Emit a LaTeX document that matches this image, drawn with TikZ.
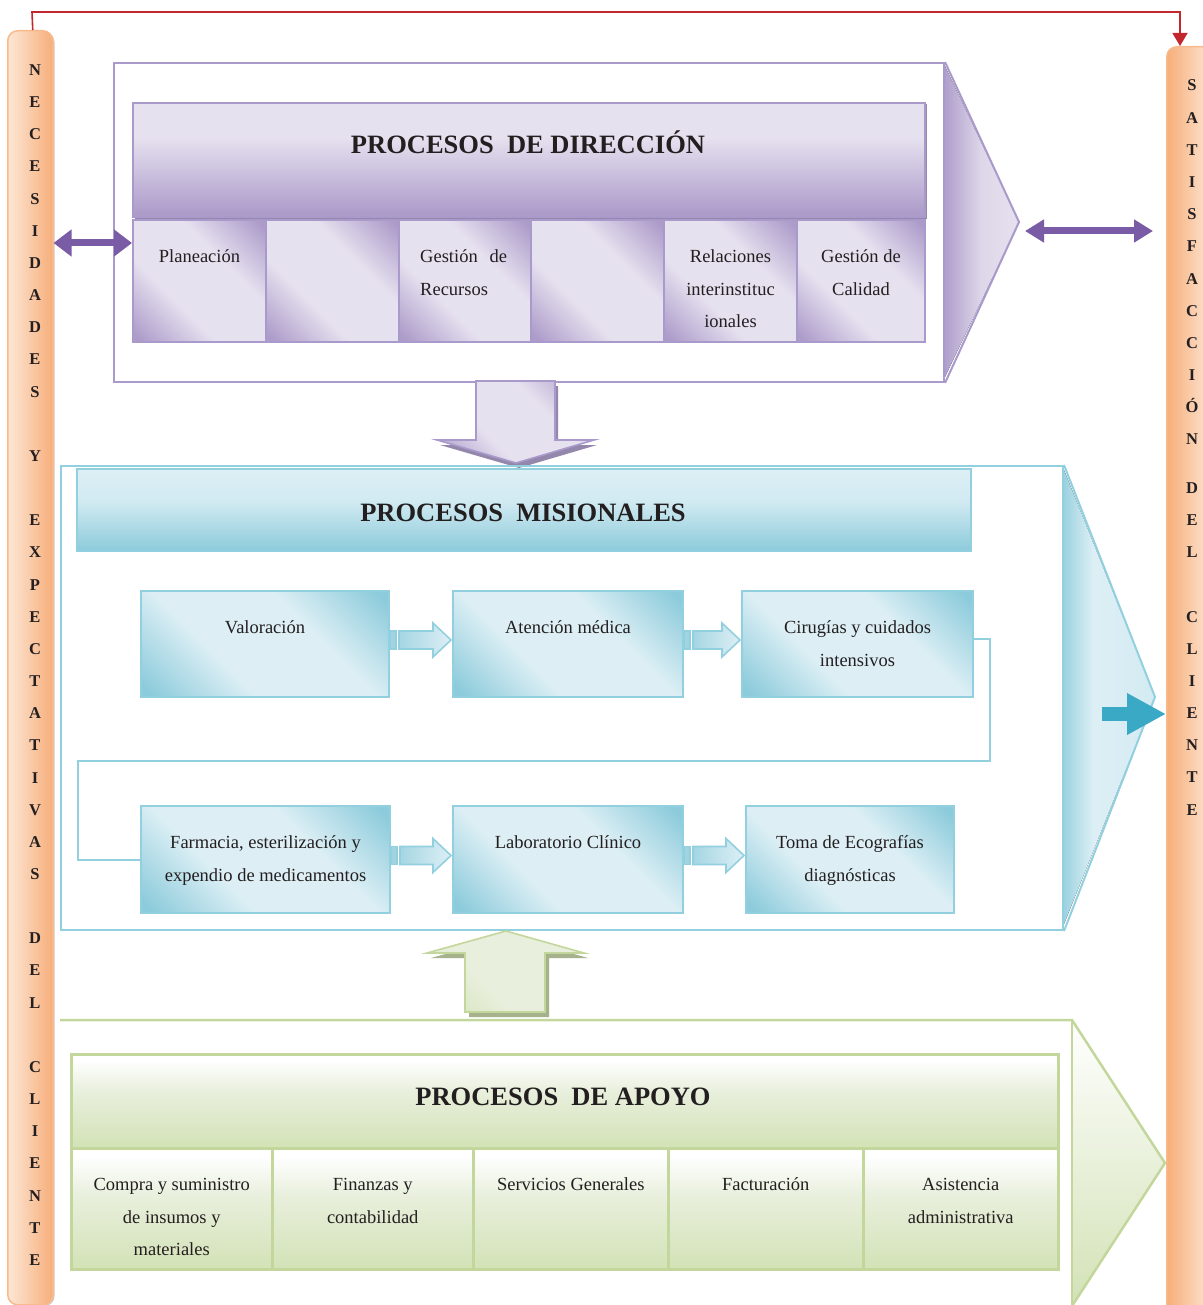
\documentclass[tikz,border=0pt]{standalone}
\usepackage{fontspec}
\setmainfont{Liberation Serif}
\usetikzlibrary{calc,arrows.meta}

% palette
\definecolor{ink}{HTML}{231F20}
\definecolor{purBorder}{HTML}{A99ACB}
\definecolor{purDark}{HTML}{AD9CCA}
\definecolor{purLight}{HTML}{E6E1EF}
\definecolor{purArrow}{HTML}{7A5BA5}
\definecolor{purShadow}{HTML}{9487AC}
\definecolor{bluBorder}{HTML}{93D0DF}
\definecolor{bluDark}{HTML}{8CCBDB}
\definecolor{bluLight}{HTML}{DDEFF5}
\definecolor{tealArrow}{HTML}{3AA9C6}
\definecolor{grnBorder}{HTML}{C3D69B}
\definecolor{grnDark}{HTML}{D3E2B6}
\definecolor{grnLight}{HTML}{E8EFDC}
\definecolor{grnShadow}{HTML}{A6B28C}
\definecolor{orgDark}{HTML}{F6AE7A}
\definecolor{orgLight}{HTML}{FDE7D6}
\definecolor{orgBorder}{HTML}{F8BA8C}
\definecolor{redLine}{HTML}{C1272D}

% diagonal and vertical fills
\pgfdeclareverticalshading{purdiag}{100bp}{color(0bp)=(purDark); color(17bp)=(purDark); color(38bp)=(purLight); color(62bp)=(purLight); color(83bp)=(purDark); color(100bp)=(purDark)}
\pgfdeclareverticalshading{bludiag}{100bp}{color(0bp)=(bluDark); color(17bp)=(bluDark); color(38bp)=(bluLight); color(62bp)=(bluLight); color(83bp)=(bluDark); color(100bp)=(bluDark)}
\pgfdeclareverticalshading{grndiag}{100bp}{color(0bp)=(grnDark); color(15bp)=(grnDark); color(40bp)=(grnLight); color(100bp)=(grnLight)}
\pgfdeclareverticalshading{grnvert}{100bp}{color(0bp)=(grnDark); color(25bp)=(grnDark); color(55bp)=(grnLight); color(72bp)=(white); color(100bp)=(white)}
\pgfdeclareverticalshading{purtitle}{100bp}{color(0bp)=(purDark); color(27bp)=(purDark); color(60bp)=(purLight); color(100bp)=(purLight)}
\pgfdeclareverticalshading{blutitle}{100bp}{color(0bp)=(bluDark); color(25bp)=(bluDark); color(55bp)=(bluLight!85!bluDark); color(75bp)=(bluLight); color(100bp)=(bluLight)}
\pgfdeclarehorizontalshading{purchev}{100bp}{color(0bp)=(purDark); color(25bp)=(purDark); color(50bp)=(purLight!85!purDark); color(75bp)=(purLight); color(100bp)=(purLight)}
\pgfdeclarehorizontalshading{bluchev}{100bp}{color(0bp)=(bluDark); color(25bp)=(bluDark!85!bluLight); color(42bp)=(bluLight); color(75bp)=(bluLight!88!bluDark); color(100bp)=(bluLight!88!bluDark)}

\tikzset{
  every node/.style={inner sep=0pt},
  pbox/.style={draw=purBorder, line width=2pt, shading=purdiag, shading angle=-45, anchor=north west},
  bbox/.style={draw=bluBorder, line width=2pt, shading=bludiag, shading angle=-45, anchor=north west},
  gbox/.style={draw=grnBorder, line width=2.5pt, shading=grnvert, anchor=north west},
  lbl/.style={font=\fontsize{18.5}{32.5}\selectfont, text=ink, align=center, anchor=north},
  ttl/.style={font=\fontsize{26.5}{30}\selectfont\bfseries, text=ink, anchor=base},
  sidel/.style={font=\fontsize{16.5}{18}\selectfont\bfseries, text=ink, anchor=base},
  sidebar/.style={draw=orgBorder, line width=1.5pt, rounded corners=10pt, anchor=north west},
  purline/.style={draw=purBorder, line width=2pt},
  bluline/.style={draw=bluBorder, line width=2pt},
  grnline/.style={draw=grnBorder, line width=2.5pt},
  dblpur/.style={draw=purArrow, line width=7pt,
    {Triangle[length=18pt,width=26pt]}-{Triangle[length=18pt,width=26pt]}},
  flowstroke/.style={draw=bluBorder, line width=1.6pt},
}

% box placed by its top-left corner: style, name, x, y, width, height
\newcommand{\placebox}[6]{\node[#1, minimum width=#5pt, minimum height=#6pt] (#2) at (#3,#4) {};}
% centred text hanging from the top of a box
\newcommand{\boxtext}[2]{\node[lbl] (#1t) at ($(#1.north)+(0,21)$) {\strut #2};}
% small striped block arrow between two process boxes
\newcommand{\flowarrow}[2]{%
  \path let \p1=(#1.east), \p2=(#2.west) in
    [flowstroke, fill=bluDark!75!bluLight] (\x1,\y1-5pt) rectangle (\x1+6pt,\y1+13pt);
  \path let \p1=(#1.east), \p2=(#2.west) in
    [flowstroke, left color=bluDark!70!bluLight, right color=bluLight]
    (\x1+9pt,\y1-5pt) -- (\x2-19pt,\y1-5pt) -- (\x2-19pt,\y1-13pt) -- (\x2-1pt,\y1+4pt)
    -- (\x2-19pt,\y1+21pt) -- (\x2-19pt,\y1+13pt) -- (\x1+9pt,\y1+13pt) -- cycle;}

\begin{document}
\begin{tikzpicture}[x=1pt,y=-1pt]
\useasboundingbox (0,0) rectangle (1202,1305);

% ---------- side bars ----------
\fill[orgDark!60!gray!60, rounded corners=10pt] (9.5,32) rectangle (54.5,1306);
\placebox{sidebar, left color=orgLight, right color=orgDark}{need}{7}{30}{45}{1274}
\placebox{sidebar, left color=orgDark, right color=orgLight}{sat}{1166}{46}{46}{1270}

\foreach \c/\k [count=\i] in {N/0,E/1,C/2,E/3,S/4,I/5,D/6,A/7,D/8,E/9,S/10,Y/12,
    E/14,X/15,P/16,E/17,C/18,T/19,A/20,T/21,I/22,V/23,A/24,S/25,D/27,E/28,L/29,
    C/31,L/32,I/33,E/34,N/35,T/36,E/37}
  \node[sidel] (nl\i) at (35,{70+\k*32.16+5.5}) {\c};

\foreach \c/\yy [count=\i] in {S/85,A/118,T/150,I/182,S/214,F/246,A/279,C/311,C/343,
    I/375,Ó/407,N/439,D/488,E/520,L/552,C/617,L/649,I/681,E/713,N/745,T/777,E/810}
  \node[sidel] (nr\i) at (1192,{\yy+5.5}) {\c};

% red feedback line
\coordinate (redL) at (32,12);
\coordinate (redR) at (1180,12);
\draw[redLine, line width=1.6pt, -{Triangle[length=13pt,width=15pt]}]
  ($(need.north)+(2.5,0)$) -- (redL) -- (redR) -- (redR |- sat.north);

% ---------- procesos de direccion ----------
\coordinate (dirTip) at (1019,222);
\fill[shading=purchev] (943,62) -- (dirTip) -- (943,381) -- cycle;
\placebox{purline, anchor=north west}{dir}{113}{62}{830}{319}
\draw[purline] (dir.north east) -- (dirTip) -- (dir.south east);

\fill[purShadow] (135,104) rectangle (927,219);
\placebox{purline, shading=purtitle, anchor=north west}{dirT}{132}{102}{792}{114}
\node[ttl] (dirTt) at (528,154) {PROCESOS\ \ DE DIRECCIÓN};

\placebox{pbox}{plan}{132}{219}{133}{122}
\placebox{pbox}{dirb}{265}{219}{133}{122}
\placebox{pbox}{gesr}{398}{219}{132}{122}
\placebox{pbox}{dird}{530}{219}{133}{122}
\placebox{pbox}{rel}{663}{219}{133}{122}
\placebox{pbox}{cal}{796}{219}{128}{122}
\boxtext{plan}{Planeación}
\node[lbl, align=left, anchor=north west] (gesrt) at ($(gesr.north west)+(22,21)$)
  {\strut Gestión\hspace{12pt}de\\Recursos};
\boxtext{rel}{Relaciones\\interinstituc\\ionales}
\boxtext{cal}{Gestión de\\Calidad}

% two-way links with the side bars
\coordinate (yNeed) at (0,243);
\draw[dblpur] (need.east |- yNeed) -- (plan.west |- yNeed);
\coordinate (ySat) at (0,231);
\draw[dblpur, {Triangle[length=19pt,width=22pt]}-{Triangle[length=19pt,width=22pt]}]
  ($(dirTip |- ySat)+(6,0)$) -- ($(sat.west |- ySat)+(-13,0)$);

% down block arrow
\fill[purShadow] (479,386) -- (558,386) -- (558,445) -- (597,445) -- (519,468) -- (440,445) -- (479,445) -- cycle;
\draw[draw=purBorder, line width=1.6pt, shading=purdiag, shading angle=-45]
  (476,381) -- (555,381) -- (555,440) -- (594,440) -- (516,463) -- (437,440) -- (476,440) -- cycle;

% ---------- procesos misionales ----------
\coordinate (misTip) at (1155,697);
\fill[shading=bluchev] (1062,465) -- (misTip) -- (1062,929) -- cycle;
\placebox{bluline, anchor=north west}{mis}{60}{465}{1002}{464}
\draw[bluline] (mis.north east) -- (misTip) -- (mis.south east);

\placebox{bluline, shading=blutitle, anchor=north west}{misT}{76}{468}{894}{82}
\node[ttl] (misTt) at (523,521) {PROCESOS\ \ MISIONALES};

\placebox{bbox}{val}{140}{590}{248}{106}
\placebox{bbox}{ate}{452}{590}{230}{106}
\placebox{bbox}{cir}{741}{590}{231}{106}
\placebox{bbox}{far}{140}{805}{249}{107}
\placebox{bbox}{lab}{452}{805}{230}{107}
\placebox{bbox}{toma}{745}{805}{208}{107}
\boxtext{val}{Valoración}
\boxtext{ate}{Atención médica}
\boxtext{cir}{Cirugías y cuidados\\intensivos}
\boxtext{far}{Farmacia, esterilización y\\expendio de medicamentos}
\boxtext{lab}{Laboratorio Clínico}
\boxtext{toma}{Toma de Ecografías\\diagnósticas}

\flowarrow{val}{ate}
\flowarrow{ate}{cir}
\flowarrow{far}{lab}
\flowarrow{lab}{toma}

% return loop from the first row to the second
\coordinate (loopR) at (990,761);
\coordinate (loopL) at (78,761);
\draw[bluline] ($(cir.east)+(0,-5)$) -| (loopR) -- (loopL) |- (far.west);

% output arrow toward the client
\coordinate (yOut) at (0,714);
\draw[tealArrow, line width=14pt, -{Triangle[length=39pt,width=39pt]}]
  (1102,714) -- (sat.west |- yOut);

% up block arrow
\fill[grnShadow] (431,958) -- (510,936) -- (588,958) -- (549,958) -- (549,1017) -- (469,1017) -- (469,958) -- cycle;
\draw[draw=grnBorder, line width=1.6pt, shading=grndiag, shading angle=-45]
  (506,931) -- (584,953) -- (545,953) -- (545,1012) -- (465,1012) -- (465,953) -- (427,953) -- cycle;

% ---------- procesos de apoyo ----------
\coordinate (apoTL) at (60,1020);
\coordinate (apoTR) at (1072,1020);
\coordinate (apoTip) at (1165,1163);
\coordinate (apoBR) at (1072,1306);
\fill[top color=white, bottom color=grnDark] (apoTR) -- (apoTip) -- (apoBR) -- cycle;
\draw[grnline] (apoTL) -- (apoTR) -- (apoTip) -- (apoBR);
\draw[grnline] (apoTR) -- (apoBR);

\placebox{gbox}{apoT}{70}{1053}{987}{94}
\node[ttl] (apoTt) at (563,1105) {PROCESOS\ \ DE APOYO};

\placebox{gbox}{comp}{70}{1147}{201}{121}
\placebox{gbox}{fin}{271}{1147}{201}{121}
\placebox{gbox}{serv}{472}{1147}{195}{121}
\placebox{gbox}{fact}{667}{1147}{195}{121}
\placebox{gbox}{asis}{862}{1147}{195}{121}
\boxtext{comp}{Compra y suministro\\de insumos y\\materiales}
\boxtext{fin}{Finanzas y\\contabilidad}
\boxtext{serv}{Servicios Generales}
\boxtext{fact}{Facturación}
\boxtext{asis}{Asistencia\\administrativa}

\end{tikzpicture}
\end{document}
